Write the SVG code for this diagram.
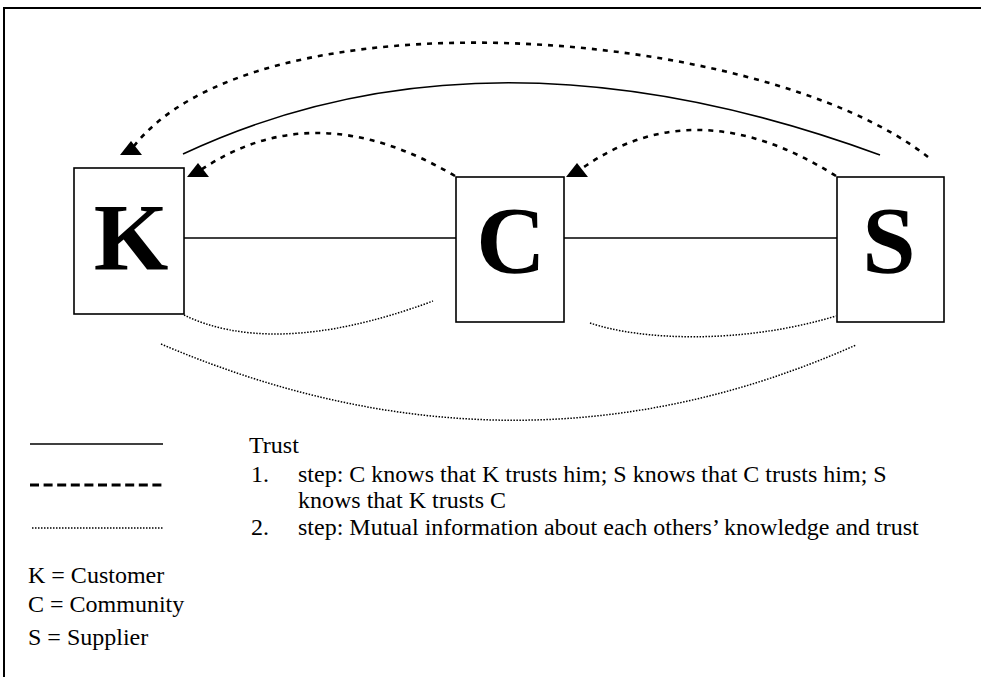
<svg xmlns="http://www.w3.org/2000/svg" width="981" height="677" viewBox="0 0 981 677">
<style>
  .frame{fill:none;stroke:#000;stroke-width:2}
  .box{fill:#fff;stroke:#000;stroke-width:1.6}
  .big{font-family:"Liberation Serif","Times New Roman",serif;font-weight:bold;font-size:96px;text-anchor:middle;fill:#000}
  .txt{font-family:"Liberation Serif","Times New Roman",serif;font-size:24px;fill:#000}
  .solid{fill:none;stroke:#000;stroke-width:1.6}
  .dash{fill:none;stroke:#000;stroke-width:2.6;stroke-dasharray:5 6}
  .dot{fill:none;stroke:#000;stroke-width:1.5;stroke-dasharray:1.5 1.5}
  .ldash{fill:none;stroke:#000;stroke-width:3;stroke-dasharray:9 4.6}
</style>
<defs>
  <marker id="ah" markerUnits="userSpaceOnUse" markerWidth="24" markerHeight="18" refX="11" refY="9" orient="0" overflow="visible">
    <polygon points="11,0 0,14 22,14" fill="#000"/>
  </marker>
</defs>
<rect width="981" height="677" fill="#fff"/>
<path class="frame" d="M4,677 V8 H981"/>

<g id="connectors">
  <line class="solid" x1="184" y1="238" x2="456" y2="238"/>
  <line class="solid" x1="564" y1="238" x2="837" y2="238"/>
  <path class="dash" d="M928,157 C760,25 250,-12 131,150" marker-end="url(#ah)"/>
  <path class="solid" d="M183,154 Q488,11 880,155"/>
  <path class="dash" d="M455,176 Q313,92 198,172" marker-end="url(#ah)"/>
  <path class="dash" d="M836,176 Q693,86 577,172" marker-end="url(#ah)"/>
  <path class="dot" d="M184,315 C235,340 315,345 433,301"/>
  <path class="dot" d="M590,323 C640,340 740,345 836,316"/>
  <path class="dot" d="M161,344 Q517,496 856,345"/>
</g>

<g id="node-K">
  <rect class="box" x="74" y="168" width="110" height="146"/>
  <text class="big" x="131" y="270">K</text>
</g>
<g id="node-C">
  <rect class="box" x="456" y="177" width="108" height="145"/>
  <text class="big" x="511" y="273">C</text>
</g>
<g id="node-S">
  <rect class="box" x="837" y="177" width="107" height="145"/>
  <text class="big" x="889" y="273">S</text>
</g>

<g id="legend">
  <line class="solid" x1="30" y1="444" x2="163" y2="444"/>
  <line class="ldash" x1="30" y1="485" x2="166" y2="485"/>
  <line class="dot" x1="32" y1="528" x2="163" y2="528"/>
  <text class="txt" x="249" y="453">Trust</text>
  <text class="txt" x="251" y="482">1.</text>
  <text class="txt" x="298" y="482">step: C knows that K trusts him; S knows that C trusts him; S</text>
  <text class="txt" x="298" y="508">knows that K trusts C</text>
  <text class="txt" x="251" y="535">2.</text>
  <text class="txt" x="298" y="535">step: Mutual information about each others’ knowledge and trust</text>
  <text class="txt" x="28" y="583">K = Customer</text>
  <text class="txt" x="28" y="612">C = Community</text>
  <text class="txt" x="28" y="645">S = Supplier</text>
</g>
</svg>
